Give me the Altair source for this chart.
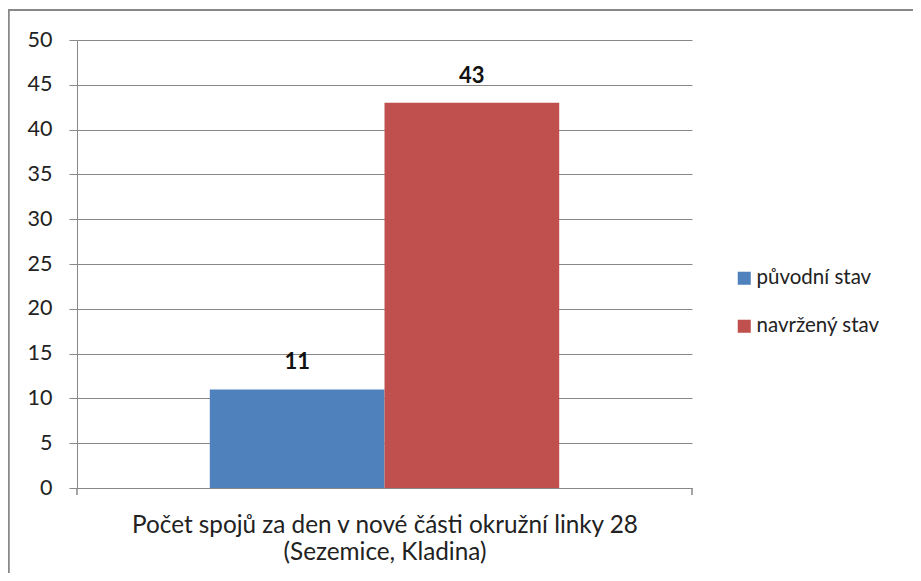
import altair as alt
import pandas as pd

category = ["Počet spojů za den v nové části okružní linky 28 (Sezemice, Kladina)"]
series = ["původní stav", "navržený stav"]
values = [11, 43]
colors = ["#4F81BD", "#C0504D"]
title_lines = ["Počet spojů za den v nové části okružní linky 28", "(Sezemice, Kladina)"]

df = pd.DataFrame({"cat": category * 2, "stav": series, "v": values})

FONT = "Lato"
W, H = 615, 448

x = alt.X("cat:N", axis=alt.Axis(title=title_lines, labels=False, ticks=False,
                                  domainColor="#888", titleFont=FONT,
                                  titleFontSize=24.3, titleFontWeight="normal", titleColor="#222",
                                  titlePadding=25, titleLineHeight=27),
          scale=alt.Scale(paddingInner=0, paddingOuter=0.38))
y = alt.Y("v:Q", scale=alt.Scale(domain=[0, 50]),
          axis=alt.Axis(values=list(range(0, 51, 5)), title=None, tickSize=8, tickColor="#888",
                        domainColor="#888", gridColor="#888", labelFont=FONT, labelFontSize=21.5,
                        labelColor="#222", labelPadding=17))
xo = alt.XOffset("stav:N", sort=series)

bars = alt.Chart(df).mark_bar().encode(
    x=x, y=y, xOffset=xo,
    color=alt.Color("stav:N", sort=series, scale=alt.Scale(domain=series, range=colors),
                    legend=alt.Legend(title=None, orient="none", legendX=657, legendY=228,
                                      symbolType="square", symbolSize=170, symbolStrokeWidth=0,
                                      labelFont=FONT, labelFontSize=20.5, labelColor="#222",
                                      rowPadding=27, labelOffset=2)),
)

labels = alt.Chart(df).mark_text(font=FONT, fontSize=22, fontWeight="bold", baseline="middle",
                                 dy=-27, color="#111").encode(
    x=x, y=y, xOffset=xo, text=alt.Text("v:Q"))

tick_l = alt.Chart(df).mark_rule(color="#888", strokeWidth=1).encode(
    x=alt.value(0), y=alt.value(H), y2=alt.value(H + 7))
tick_r = alt.Chart(df).mark_rule(color="#888", strokeWidth=1).encode(
    x=alt.value(W), y=alt.value(H), y2=alt.value(H + 7))

border_left = alt.Chart(df).mark_rule(color="#888", strokeWidth=2).encode(
    x=alt.value(-68.5), y=alt.value(-31), y2=alt.value(560))
border_top = alt.Chart(df).mark_rule(color="#888", strokeWidth=2).encode(
    y=alt.value(-30), x=alt.value(-69.5), x2=alt.value(900))

chart = alt.layer(bars, labels, tick_l, tick_r, border_left, border_top).properties(
    width=W, height=H,
    autosize=alt.AutoSizeParams(type="none"),
    padding={"left": 69, "top": 32, "right": 221, "bottom": 85},
).configure_view(stroke=None).configure_axis(grid=True).configure_axisX(grid=False)

chart.save("out.html", embed_options={"renderer": "svg", "actions": False})
